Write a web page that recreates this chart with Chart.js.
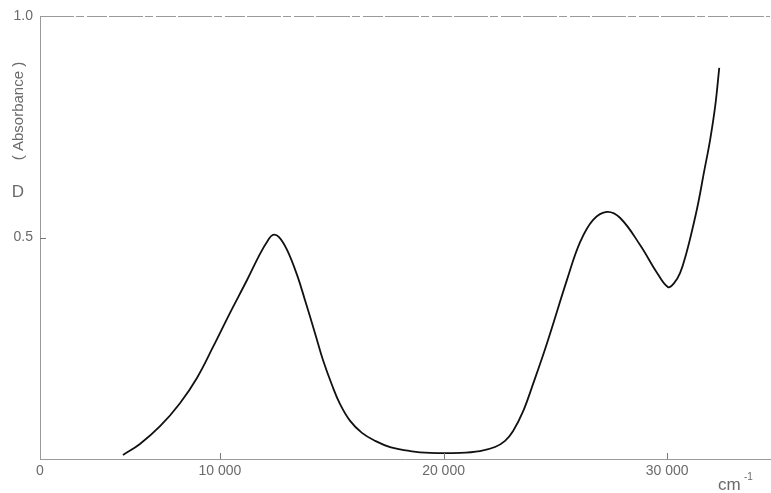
<!DOCTYPE html>
<html>
<head>
<meta charset="utf-8">
<script src="https://cdn.jsdelivr.net/npm/chart.js@4.4.0/dist/chart.umd.min.js"></script>
<style>
html,body{margin:0;padding:0;background:#fff;}
</style>
</head>
<body>
<canvas id="myChart" width="771" height="493"></canvas>
<script>
// spectrum (cm-1 , absorbance)
var wavenumber=[5660,6420,7320,8210,8970,9690,10450,11210,11790,12150,12370,12640,13000,13450,13800,14250,14610,15010,15370,15820,16350,16940,17610,18500,19400,20740,21630,22300,22750,23110,23560,24000,24630,25530,26110,26690,27310,27900,28790,29550,30040,30310,30580,30850,31120,31390,31650,31920,32150,32330];
var absorbance=[0.009,0.034,0.074,0.126,0.183,0.253,0.330,0.404,0.463,0.494,0.506,0.501,0.472,0.415,0.359,0.284,0.223,0.167,0.124,0.086,0.059,0.041,0.027,0.018,0.014,0.014,0.018,0.027,0.041,0.063,0.108,0.169,0.262,0.406,0.490,0.540,0.558,0.544,0.483,0.420,0.388,0.397,0.420,0.463,0.517,0.578,0.648,0.720,0.797,0.883];

var xTicks=[10000,20000,30000];
var xTickLabels=['10 000','20 000','30 000'];
var yTicks=[0.5,1.0];
var yTickLabels=['0.5','1.0'];
var xMin=1950, xMax=34600;

var labelColor='#6a6a6a';
var axisColor='#9a9a9a';

//extra drawing: top line, inner ticks, axis titles
var extras={
	id:'extras',
	afterDraw:function(chart){
		var ctx=chart.ctx, a=chart.chartArea;
		var sx=chart.scales.x, sy=chart.scales.y;
		ctx.save();
		ctx.strokeStyle=axisColor;
		ctx.lineWidth=1;
		ctx.setLineDash([34,2,8,3,20,2]);
		ctx.beginPath();
		ctx.moveTo(a.left,a.top+0.5);
		ctx.lineTo(a.right,a.top+0.5);
		ctx.stroke();
		ctx.setLineDash([]);
		ctx.strokeStyle='#777';
		//inner ticks
		ctx.beginPath();
		xTicks.forEach(function(v){
			var px=Math.round(sx.getPixelForValue(v))+0.5;
			ctx.moveTo(px,a.bottom);
			ctx.lineTo(px,a.bottom-6);
		});
		var py=Math.round(sy.getPixelForValue(0.5))+0.5;
		ctx.moveTo(a.left,py);
		ctx.lineTo(a.left+6,py);
		ctx.stroke();

		//titles
		ctx.fillStyle=labelColor;
		ctx.font='17px "Liberation Sans", Arial, sans-serif';
		ctx.textAlign='center';
		ctx.textBaseline='middle';
		ctx.fillText('D',18,192);
		ctx.save();
		ctx.translate(19,111);
		ctx.rotate(-Math.PI/2);
		ctx.font='15px "Liberation Sans", Arial, sans-serif';
		ctx.fillText('( Absorbance )',0,0);
		ctx.restore();
		ctx.textAlign='left';
		ctx.textBaseline='alphabetic';
		ctx.font='17px "Liberation Sans", Arial, sans-serif';
		ctx.fillText('cm',718,490);
		ctx.font='10px "Liberation Sans", Arial, sans-serif';
		ctx.fillText('-1',744,480);
		ctx.restore();
	}
};

var grafica=new Chart(document.getElementById('myChart'),{
	type:'scatter',
	data:{
		datasets:[{
			data:wavenumber.map(function(x,i){return {x:x,y:absorbance[i]};}),
			showLine:true,
			borderColor:'#111',
			borderWidth:1.8,
			pointRadius:0,
			tension:0.4
		}]
	},
	options:{
		responsive:false,
		animation:false,
		layout:{padding:{top:16,right:1,left:0,bottom:0}},
		plugins:{legend:{display:false},tooltip:{enabled:false}},
		scales:{
			x:{
				type:'linear',
				min:xMin,
				max:xMax,
				afterBuildTicks:function(s){
					s.ticks=[{value:xMin}].concat(xTicks.map(function(v){return {value:v};}));
				},
				afterFit:function(s){ s.height=34; },
				ticks:{
					autoSkip:false,
					maxRotation:0,
					padding:4,
					color:labelColor,
					font:{family:'"Liberation Sans", Arial, sans-serif',size:14},
					callback:function(v){
						if(v===xMin) return '0';
						return xTickLabels[xTicks.indexOf(v)];
					}
				},
				grid:{display:false,drawTicks:false,tickLength:0},
				border:{display:true,color:axisColor,width:1}
			},
			y:{
				min:0,
				max:1,
				afterBuildTicks:function(s){
					s.ticks=yTicks.map(function(v){return {value:v};});
				},
				afterFit:function(s){ s.width=40; },
				ticks:{
					padding:7,
					color:labelColor,
					font:{family:'"Liberation Sans", Arial, sans-serif',size:14},
					callback:function(v){
						return yTickLabels[yTicks.indexOf(v)];
					}
				},
				grid:{display:false,drawTicks:false,tickLength:0},
				border:{display:true,color:axisColor,width:1}
			}
		}
	},
	plugins:[extras]
});
</script>
</body>
</html>
